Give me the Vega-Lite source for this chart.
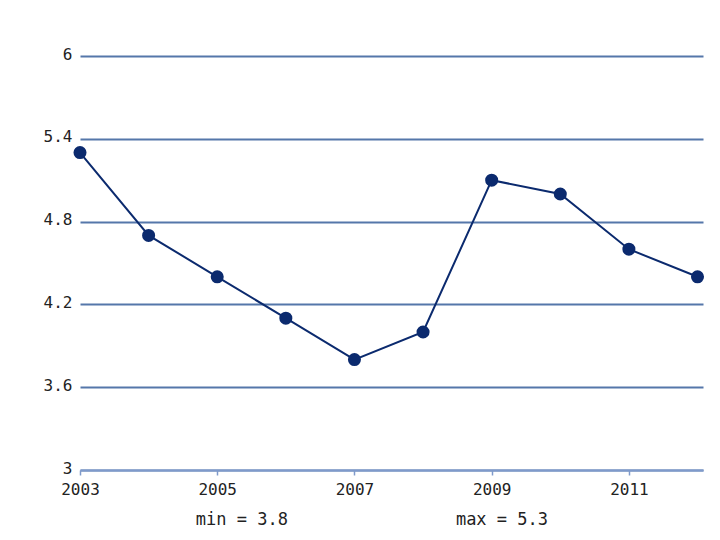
{
  "$schema": "https://vega.github.io/schema/vega-lite/v6.json",
  "width": 623,
  "height": 414,
  "autosize": {"type": "none"},
  "padding": {"left": 80, "top": 56, "right": 17, "bottom": 70},
  "background": "white",
  "config": {
    "view": {"stroke": null},
    "font": "DejaVu Sans Mono",
    "axis": {"labelFont": "DejaVu Sans Mono", "labelFontSize": 16, "labelColor": "#222222"}
  },
  "layer": [
    {
      "data": {"values": [
        {"year": 2003, "value": 5.3},
        {"year": 2004, "value": 4.7},
        {"year": 2005, "value": 4.4},
        {"year": 2006, "value": 4.1},
        {"year": 2007, "value": 3.8},
        {"year": 2008, "value": 4.0},
        {"year": 2009, "value": 5.1},
        {"year": 2010, "value": 5.0},
        {"year": 2011, "value": 4.6},
        {"year": 2012, "value": 4.4}
      ]},
      "mark": {"type": "line", "color": "#0b2a6e", "strokeWidth": 2, "point": {"filled": true, "size": 170, "color": "#0b2a6e", "opacity": 1}},
      "encoding": {
        "x": {"field": "year", "type": "quantitative",
          "scale": {"domain": [2003, 2012.08], "nice": false, "zero": false},
          "axis": {"title": null, "values": [2003, 2005, 2007, 2009, 2011], "format": "d", "grid": false,
            "domainColor": "#7f9acb", "domainWidth": 2, "tickColor": "#7f9acb", "tickSize": 5, "tickWidth": 1.5, "labelPadding": 6, "labelFlush": false}},
        "y": {"field": "value", "type": "quantitative",
          "scale": {"domain": [3, 6], "nice": false, "zero": false},
          "axis": {"title": null, "values": [3, 3.6, 4.2, 4.8, 5.4, 6], "format": "~g", "domain": false, "ticks": false,
            "labelPadding": 8, "labelBaseline": "middle", "labelOffset": -2, "grid": true, "gridColor": "#5577aa", "gridWidth": 2, "gridOpacity": 1}}
      }
    },
    {
      "data": {"values": [
        {"pos": 2005.36, "yv": 2.638, "label": "min = 3.8"},
        {"pos": 2009.15, "yv": 2.638, "label": "max = 5.3"}
      ]},
      "mark": {"type": "text", "fontSize": 17, "font": "DejaVu Sans Mono", "color": "#222222", "align": "center", "baseline": "middle"},
      "encoding": {
        "x": {"field": "pos", "type": "quantitative"},
        "y": {"field": "yv", "type": "quantitative"},
        "text": {"field": "label"}
      }
    }
  ]
}
